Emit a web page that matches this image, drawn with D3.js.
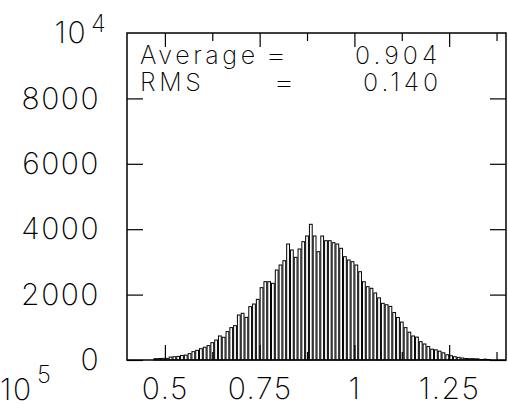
<!DOCTYPE html>
<html>
<head>
<meta charset="utf-8">
<script src="https://cdn.jsdelivr.net/npm/d3@7"></script>
<style>
  html, body { margin: 0; padding: 0; background: #fff; }
  svg text { font-family: "Inter", "Liberation Sans", sans-serif; font-weight: 200; fill: #000; }
</style>
</head>
<body>
<svg id="chart" width="508" height="409"></svg>
<script>
// ---- data ----
const binLow = [0.47,0.48,0.49,0.50,0.51,0.52,0.53,0.54,0.55,0.56,0.57,0.58,0.59,
  0.60,0.61,0.62,0.63,0.64,0.65,0.66,0.67,0.68,0.69,0.70,0.71,0.72,0.73,0.74,0.75,
  0.76,0.77,0.78,0.79,0.80,0.81,0.82,0.83,0.84,0.85,0.86,0.87,0.88,0.89,0.90,0.91,
  0.92,0.93,0.94,0.95,0.96,0.97,0.98,0.99,1.00,1.01,1.02,1.03,1.04,1.05,1.06,1.07,
  1.08,1.09,1.10,1.11,1.12,1.13,1.14,1.15,1.16,1.17,1.18,1.19,1.20,1.21,1.22,1.23,
  1.24,1.25,1.26,1.27,1.28,1.29,1.30,1.31,1.32,1.33,1.34,1.35];
const counts = [40,45,50,50,90,100,110,140,150,195,255,295,345,
  390,440,530,610,735,695,867,990,1050,1376,1428,1305,1630,1712,1855,2212,
  2395,2395,2345,2752,2905,3037,3547,3364,3140,3394,3618,3792,4150,3792,3312,3792,
  3648,3648,3587,3547,3416,3159,3058,3006,2905,2700,2394,2242,2193,2050,1900,1733,
  1690,1640,1450,1300,1160,990,850,734,700,560,490,410,330,310,270,
  220,160,130,100,80,60,45,40,40,35,15,25,15,0];
const binWidth = 0.01;
const xMajor = [0.5, 0.75, 1.0, 1.25];
const xMinor = [0.625, 0.875, 1.125, 1.375];
const yMajor = [0, 2000, 4000, 6000, 8000];
const xDomain = [0.4, 1.4];
const yDomain = [0, 10000];
const statLabels = ["Average", "RMS"];
const statValues = ["0.904", "0.140"];

// ---- layout ----
const svg = d3.select("#chart");
const L = 127, R = 506, T = 33, B = 360;
const x = d3.scaleLinear().domain(xDomain).range([L, R]);
const y = d3.scaleLinear().domain(yDomain).range([B, T]);

// bars
const bw = x(binWidth) - x(0);
svg.append("g").selectAll("rect")
  .data(counts.map((c, i) => ({lo: binLow[i], c})))
  .join("rect")
  .attr("x", d => x(d.lo) + 0.5)
  .attr("width", bw - 1)
  .attr("y", d => y(d.c))
  .attr("height", d => B - y(d.c))
  .attr("fill", "#fff")
  .attr("stroke", "#000")
  .attr("stroke-width", 1);

const fontSize = 30;
function styleAxis(g) {
  g.select(".domain").remove();
  g.selectAll(".tick line").attr("stroke", "#000").attr("stroke-width", 1.2);
  g.selectAll("text").attr("font-size", fontSize).attr("letter-spacing", 1.5)
    .attr("fill", "#000").attr("font-family", null);
}

// bottom axis major with labels
svg.append("g").attr("transform", `translate(0,${B})`)
  .call(d3.axisBottom(x).tickValues(xMajor).tickSizeInner(-15).tickSizeOuter(0)
    .tickPadding(18).tickFormat(d => d === 1 ? "1" : String(d)))
  .call(styleAxis);
svg.append("g").attr("transform", `translate(0,${B})`)
  .call(d3.axisBottom(x).tickValues(xMinor).tickSizeInner(-8).tickSizeOuter(0).tickFormat(""))
  .call(styleAxis);
// top axis
svg.append("g").attr("transform", `translate(0,${T})`)
  .call(d3.axisTop(x).tickValues(xMajor).tickSizeInner(-14).tickSizeOuter(0).tickFormat(""))
  .call(styleAxis);
svg.append("g").attr("transform", `translate(0,${T})`)
  .call(d3.axisTop(x).tickValues(xMinor).tickSizeInner(-8).tickSizeOuter(0).tickFormat(""))
  .call(styleAxis);
// left axis
svg.append("g").attr("transform", `translate(${L},0)`)
  .call(d3.axisLeft(y).tickValues(yMajor).tickSizeInner(-16).tickSizeOuter(0)
    .tickPadding(27).tickFormat(d => String(d)))
  .call(styleAxis);
// right axis
svg.append("g").attr("transform", `translate(${R},0)`)
  .call(d3.axisRight(y).tickValues(yMajor).tickSizeInner(-16).tickSizeOuter(0).tickFormat(""))
  .call(styleAxis);

// frame
svg.append("rect").attr("x", L).attr("y", T).attr("width", R - L).attr("height", B - T)
  .attr("fill", "none").attr("stroke", "#000").attr("stroke-width", 1.5);

// exponent labels
svg.append("text").attr("x", 87).attr("y", 43).attr("text-anchor", "end")
  .attr("font-size", fontSize).attr("letter-spacing", 1.5).text("10");
svg.append("text").attr("x", 91).attr("y", 32).attr("font-size", 24).text("4");
svg.append("text").attr("x", 0).attr("y", 400)
  .attr("font-size", fontSize).attr("letter-spacing", 1.5).text("10");
svg.append("text").attr("x", 37).attr("y", 383).attr("font-size", 24).text("5");

// stats box text
const st = svg.append("g").attr("font-size", 25);
st.append("text").attr("x", 140).attr("y", 64).attr("letter-spacing", 3.6).text(statLabels[0]);
st.append("text").attr("x", 265).attr("y", 64)
  .attr("textLength", 22).attr("lengthAdjust", "spacingAndGlyphs").text("=");
st.append("text").attr("x", 355).attr("y", 64).attr("letter-spacing", 4).text(statValues[0]);
st.append("text").attr("x", 140).attr("y", 91).attr("letter-spacing", 3.6).text(statLabels[1]);
st.append("text").attr("x", 273).attr("y", 91)
  .attr("textLength", 22).attr("lengthAdjust", "spacingAndGlyphs").text("=");
st.append("text").attr("x", 363).attr("y", 91).attr("letter-spacing", 4).text(statValues[1]);
</script>
</body>
</html>
